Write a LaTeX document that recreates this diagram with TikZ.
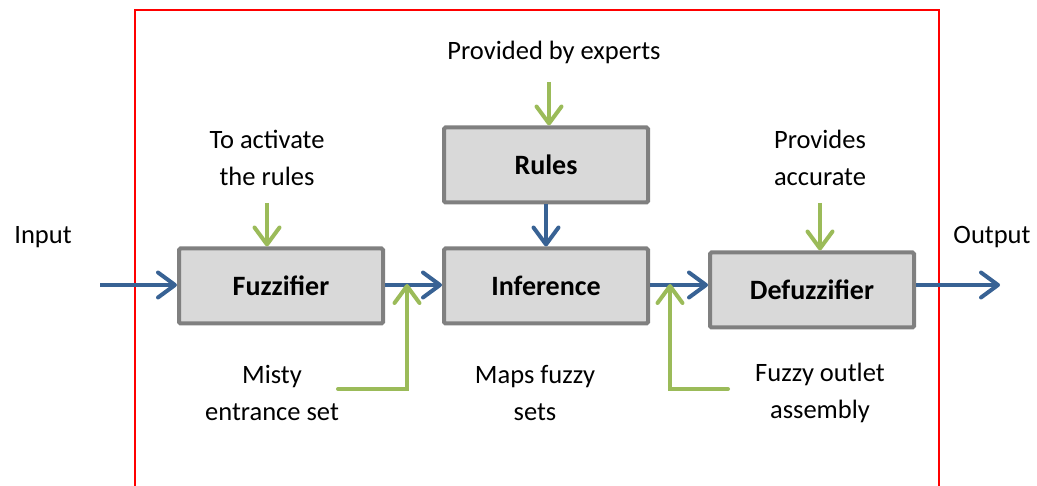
\documentclass[tikz,border=0pt]{standalone}
\usepackage{fontspec}
\setmainfont{Carlito}
\usetikzlibrary{arrows.meta}
\definecolor{boxfill}{RGB}{217,217,217}
\definecolor{boxline}{RGB}{128,128,128}
\definecolor{flowblue}{RGB}{56,98,148}
\definecolor{ingreen}{RGB}{155,187,89}
\tikzset{
  blk/.style={draw=boxline, line width=4pt, fill=boxfill, rounded corners=1.5pt,
    minimum width=204pt, minimum height=75pt, inner sep=0pt,
    font=\fontsize{28}{32}\selectfont\bfseries},
  lbl/.style={align=center, inner sep=0pt, font=\fontsize{26.5}{37}\selectfont},
  tip/.style={-{Straight Barb[length=17pt,width=25pt,line width=4pt,round]}},
  bluearr/.style={tip, draw=flowblue, line width=4pt},
  greenarr/.style={tip, draw=ingreen, line width=4pt},
}
\begin{document}
\begin{tikzpicture}[x=1pt,y=-1pt]
\useasboundingbox (0,0) rectangle (1037,486);
% frame
\draw[red, line width=2.5pt] (135,495) -- (135,10) -- (939,10) -- (939,495);
% blocks
\node[blk] (fuz) at (281,286) {Fuzzifier};
\node[blk] (inf) at (546,286) {Inference};
\node[blk] (rul) at (546,165) {Rules};
\node[blk] (def) at (812,290) {Defuzzifier};
% labels
\node[lbl] (inp) at (43,237) {Input};
\node[lbl] (outp) at (992,237) {Output};
\node[lbl] (act) at (267,158) {To activate\\the rules};
\node[lbl] (exp) at (554,52) {Provided by experts};
\node[lbl] (acc) at (820,158) {Provides\\accurate};
\node[lbl] (mis) at (272,393) {Misty\\entrance set};
\node[lbl] (map) at (535,393) {Maps fuzzy\\sets};
\node[lbl] (fzo) at (820,393) {Fuzzy outlet\\assembly};
% free ends
\coordinate (inS) at (100,285);
\coordinate (outE) at (1000,285);
\coordinate (actS) at (267,203);
\coordinate (expS) at (549,82);
\coordinate (accS) at (820,203);
\coordinate (misS) at (338,389);
\coordinate (misE) at (407,284);
\coordinate (fzoS) at (728,389);
\coordinate (fzoE) at (670,284);
% blue flow
\draw[bluearr] (inS) -- (inS -| fuz.west);
\draw[bluearr] (fuz.east |- 0,285) -- (inf.west |- 0,285);
\draw[bluearr] (inf.east |- 0,285) -- (def.west |- 0,285);
\draw[bluearr] (def.east |- 0,285) -- (outE);
\draw[bluearr] (rul.south) -- (inf.north);
% green inputs
\draw[greenarr] (actS) -- (actS |- fuz.north);
\draw[greenarr] (expS) -- (expS |- rul.north);
\draw[greenarr] (accS) -- (accS |- def.north);
\draw[greenarr, line cap=round] (misS) -| (misE);
\draw[greenarr, line cap=round] (fzoS) -| (fzoE);
\end{tikzpicture}
\end{document}
